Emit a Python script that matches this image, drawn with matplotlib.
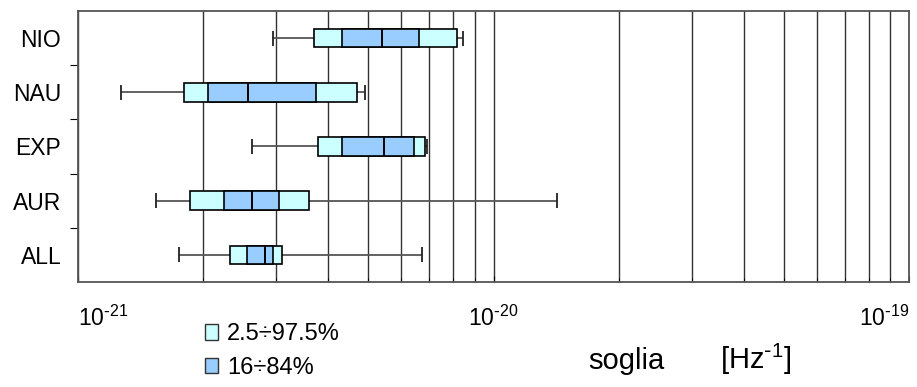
import matplotlib
matplotlib.use('Agg')
import matplotlib.pyplot as plt
from matplotlib.patches import Patch
from matplotlib.ticker import FixedLocator, NullFormatter

plt.rcParams['font.family'] = ['Liberation Sans', 'DejaVu Sans']

# data, top row first
categories = ['NIO', 'NAU', 'EXP', 'AUR', 'ALL']
whisker_lo = [2.94e-21, 1.27e-21, 2.62e-21, 1.54e-21, 1.75e-21]
p2_5 = [3.70e-21, 1.80e-21, 3.78e-21, 1.86e-21, 2.32e-21]
p16 = [4.33e-21, 2.06e-21, 4.33e-21, 2.24e-21, 2.55e-21]
median = [5.38e-21, 2.57e-21, 5.44e-21, 2.62e-21, 2.82e-21]
p84 = [6.63e-21, 3.73e-21, 6.42e-21, 3.04e-21, 2.94e-21]
p97_5 = [8.16e-21, 4.69e-21, 6.85e-21, 3.59e-21, 3.10e-21]
whisker_hi = [8.44e-21, 4.90e-21, 6.90e-21, 1.42e-20, 6.71e-21]
xtick_vals = [1e-21, 1e-20, 1e-19]
xtick_text = [r'$\mathregular{10^{\text{-}21}}$', r'$\mathregular{10^{\text{-}20}}$',
              r'$\mathregular{10^{\text{-}19}}$']

outer_color = '#ccffff'
inner_color = '#99ccff'

fig = plt.figure(figsize=(9.17, 3.87), dpi=100)
ax = fig.add_axes([0.0851, 0.2713, 0.9062, 0.7003])
ax.set_xscale('log')
ax.set_xlim(1e-21, 1e-19)
ax.set_ylim(-0.5, len(categories) - 0.5)

ypos = [len(categories) - 1 - i for i in range(len(categories))]
box_h = 0.345
cap_h = 0.28

ax.grid(which='both', axis='x', color='#333333', lw=1.0, zorder=0)
ax.set_axisbelow(True)

for i, y in enumerate(ypos):
    # whiskers
    ax.hlines(y, whisker_lo[i], p2_5[i], color='#555555', lw=1.3, zorder=2)
    ax.hlines(y, p97_5[i], whisker_hi[i], color='#555555', lw=1.3, zorder=2)
    ax.vlines([whisker_lo[i], whisker_hi[i]], y - cap_h / 2, y + cap_h / 2,
              color='#222222', lw=1.3, zorder=2)
    # 2.5-97.5 box
    ax.barh(y, p97_5[i] - p2_5[i], left=p2_5[i], height=box_h,
            color=outer_color, edgecolor='black', lw=1.2, zorder=3)
    # 16-84 box
    ax.barh(y, p84[i] - p16[i], left=p16[i], height=box_h,
            color=inner_color, edgecolor='black', lw=1.2, zorder=4)
    ax.vlines(median[i], y - box_h / 2, y + box_h / 2, color='black', lw=1.4, zorder=5)

# y axis: ticks between rows, labels at rows
ax.yaxis.set_major_locator(FixedLocator([0.5, 1.5, 2.5, 3.5]))
ax.yaxis.set_major_formatter(NullFormatter())
ax.set_yticks(ypos, categories, minor=True, fontsize=16.5)
ax.tick_params(axis='y', which='major', length=6, direction='out', color='black')
ax.tick_params(axis='y', which='minor', length=0, pad=12)

ax.set_xticks(xtick_vals, xtick_text, fontsize=16.5)
ax.tick_params(axis='x', which='major', length=4, direction='in', pad=17)
ax.tick_params(axis='x', which='minor', length=3, direction='in', labelbottom=False)
for lbl, ha in zip(ax.get_xticklabels(), ['left', 'center', 'right']):
    lbl.set_horizontalalignment(ha)

for s in ax.spines.values():
    s.set_color('#555555')
    s.set_linewidth(1.3)

handles = [Patch(facecolor=outer_color, edgecolor='#333333', label='2.5÷97.5%'),
           Patch(facecolor=inner_color, edgecolor='#333333', label='16÷84%')]
fig.legend(handles=handles, loc='upper left', bbox_to_anchor=(0.213, 0.19),
           frameon=False, fontsize=17, handlelength=0.55, handleheight=0.65,
           handletextpad=0.4, labelspacing=0.5, borderaxespad=0)

fig.text(0.641, 0.0465, 'soglia', fontsize=21, ha='left', va='baseline')
fig.text(0.785, 0.0465, r'[Hz$^{\mathregular{\text{-}1}}$]', fontsize=21, ha='left', va='baseline')

fig.savefig('out.png', dpi=100)
